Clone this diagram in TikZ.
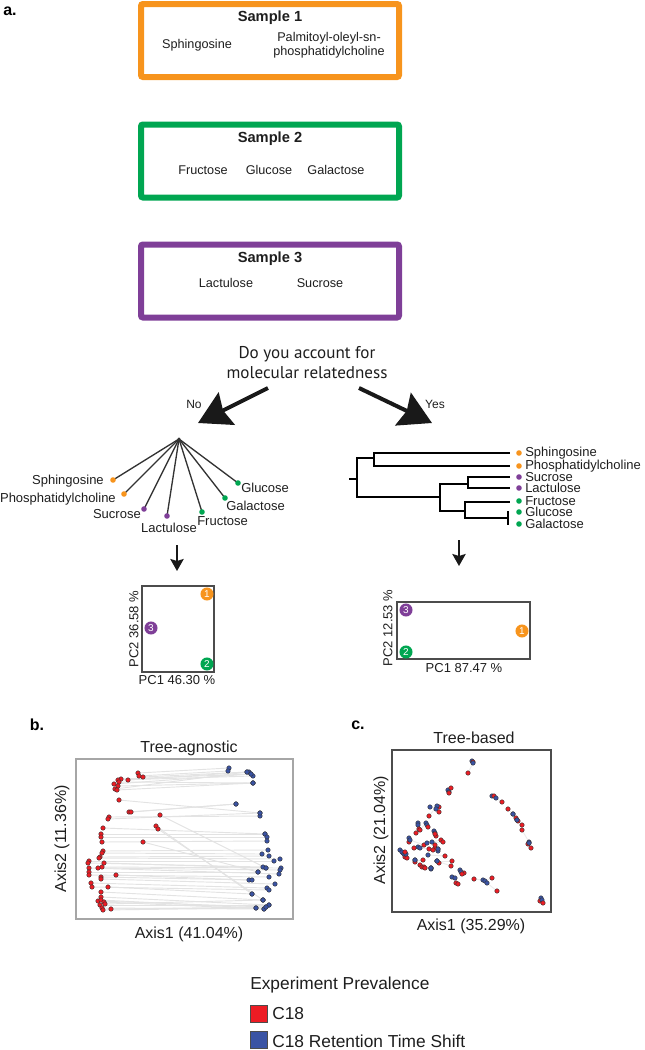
\documentclass[tikz,border=0pt]{standalone}
\usepackage{fontspec}
\setmainfont{Liberation Sans}
\newfontfamily\askfont{PT Sans}
\usetikzlibrary{arrows.meta,positioning,calc}

\definecolor{sorange}{HTML}{F7941D}
\definecolor{sgreen}{HTML}{00A651}
\definecolor{spurple}{HTML}{7F3F98}
\definecolor{pred}{HTML}{ED1C24}
\definecolor{pblue}{HTML}{3A53A4}
\definecolor{txtgray}{HTML}{1E1E1E}

% red x / red y / blue x / blue y
\newcommand{\aglist}{138/773/229/768, 139/776/228/771, 143/777/247/772, 128/780/249/772,
 121/779/251/774, 118/780/253/776, 119/782/253/783, 114/784/251/774, 118/786/253/783,
 115/789/247/772, 117/790/253/783, 119/800/260/813, 129/812/236/804, 131/812/236/804,
 109/817/260/816, 108/819/260/813, 160/815/266/868, 103/828/265/834, 156/826/252/894,
 158/829/263/900, 101/834/265/834, 101/837/267/837, 102/842/267/841, 143/842/258/872,
 103/851/268/850, 102/853/262/854, 100/857/269/856, 99/858/280/859, 89/861/274/861,
 88/863/263/867, 104/863/266/868, 102/867/281/868, 98/868/280/870, 89/868/279/874,
 89/872/258/872, 89/875/269/877, 116/875/249/880, 101/877/252/880, 101/879/275/884,
 91/883/267/888, 92/887/269/890, 108/887/252/894, 101/892/263/900, 101/897/269/905,
 98/901/266/907, 101/900/256/908, 104/902/264/909, 105/904/263/900, 100/905/269/905,
 102/908/264/909, 103/910/256/908, 111/909/266/907}
\newcommand{\tblist}{473/762/472/761, 468/773/473/763, 451/788/448/790, 449/793/449/792,
 494/796/492/796, 502/802/496/798, 439/807/430/807, 429/816/437/806, 439/812/436/809,
 508/809/513/814, 516/818/513/814, 518/821/517/820, 522/825/517/820, 522/830/529/842,
 528/844/529/843, 531/848/529/843, 416/833/418/823, 419/829/418/825, 420/830/426/823,
 428/827/427/825, 436/836/434/831, 435/834/435/833, 409/842/409/838, 424/845/410/840,
 441/840/427/843, 443/842/432/842, 435/848/438/849, 435/845/438/851, 414/848/418/847,
 429/849/420/848, 433/850/438/849, 445/856/428/855, 452/861/437/861, 403/853/400/850,
 405/857/402/852, 407/858/404/854, 405/852/406/854, 415/862/415/860, 423/860/415/860,
 439/863/437/861, 451/866/437/861, 420/865/431/868, 422/867/431/868, 424/867/431/869,
 425/868/431/868, 464/873/460/870, 462/874/461/872, 456/883/452/877, 458/884/455/878,
 474/879/483/880, 492/878/485/881, 497/891/487/883, 540/901/541/898, 543/903/542/900}

\begin{document}
\begin{tikzpicture}[x=0.75pt,y=-0.75pt,
 samplebox/.style={draw=#1,line width=4.5pt,rounded corners=1.5pt,minimum width=193.5pt,minimum height=54.75pt},
 boxhead/.style={font=\bfseries\fontsize{11}{13}\selectfont,text=txtgray,inner sep=0pt},
 boxtxt/.style={font=\fontsize{9.5}{10.5}\selectfont,text=txtgray,inner sep=0pt},
 treelbl/.style={font=\fontsize{9.75}{10.5}\selectfont,text=txtgray,inner sep=0pt},
 leafdot/.style={circle,fill=#1,inner sep=0pt,minimum size=4.2pt},
 bigarrow/.style={line width=3pt,draw=black!90,-{Stealth[length=24pt,width=27pt,inset=3pt]}},
 downarrow/.style={line width=1.5pt,draw=black!90,-{Stealth[length=9pt,width=10pt,inset=1.5pt]}},
 starline/.style={line width=1pt,draw=black!80},
 phylo/.style={line width=2.2pt,line join=miter,line cap=rect},
 pcabox/.style={draw=black!70,line width=1pt,inner sep=0pt},
 pcapt/.style={circle,fill=#1,inner sep=0pt,minimum size=9.8pt,text=white,font=\fontsize{7.5}{7.5}\selectfont},
 axlbl/.style={font=\fontsize{9.75}{10.5}\selectfont,text=txtgray,inner sep=0pt},
 panellbl/.style={font=\bfseries\fontsize{12}{14}\selectfont,inner sep=0pt},
 plotlbl/.style={font=\fontsize{12}{14}\selectfont,text=txtgray,inner sep=0pt},
 pairline/.style={draw=black!11,line width=0.7pt},
 rdot/.style={circle,fill=pred,draw=black!80,line width=0.3pt,inner sep=0pt,minimum size=3.4pt},
 bdot/.style={circle,fill=pblue,draw=black!80,line width=0.3pt,inner sep=0pt,minimum size=3.4pt}]
\useasboundingbox (0,0) rectangle (644,1050);

\node[panellbl] (pa) at (10,11) {a.};

% samples
\node[samplebox=sorange] (s1) at (270,40.5) {};
\node[boxhead] (s1head) at (270,18) {Sample 1};
\node[boxtxt] (sph) at (197,45) {Sphingosine};
\node[boxtxt,align=center] (pops) at (329,45) {Palmitoyl-oleyl-sn-\\phosphatidylcholine};

\node[samplebox=sgreen] (s2) at (270,161) {};
\node[boxhead] (s2head) at (270,139) {Sample 2};
\node[boxtxt] (fru) at (203,170) {Fructose};
\node[boxtxt] (glu) at (269,170) {Glucose};
\node[boxtxt] (gal) at (336,170) {Galactose};

\node[samplebox=spurple] (s3) at (270,281) {};
\node[boxhead] (s3head) at (270,259) {Sample 3};
\node[boxtxt] (lac) at (226,283) {Lactulose};
\node[boxtxt] (suc) at (320,283) {Sucrose};

% question
\node[font=\askfont\fontsize{12.8}{15}\selectfont,text=txtgray,align=center,inner sep=0pt] (ask) at (307,363)
 {Do you account for\\molecular relatedness};
\coordinate (notail) at (268,388);
\coordinate (notip) at (198,423);
\coordinate (yestail) at (359,388);
\coordinate (yestip) at (432,423);
\draw[bigarrow] (notail) -- (notip);
\draw[bigarrow] (yestail) -- (yestip);
\node[treelbl,font=\fontsize{9}{10}\selectfont] (no) at (194,404) {No};
\node[treelbl,font=\fontsize{9}{10}\selectfont] (yes) at (435,404) {Yes};

% star tree
\coordinate (hub) at (179,439);
\coordinate (lsph) at (113,480);
\coordinate (lpho) at (124,494);
\coordinate (lsuc) at (144,509);
\coordinate (llac) at (167,516);
\coordinate (lfru) at (202,512);
\coordinate (lgal) at (225,498);
\coordinate (lglu) at (238,483);
\draw[starline] (hub) -- (lsph);
\draw[starline] (hub) -- (lpho);
\draw[starline] (hub) -- (lsuc);
\draw[starline] (hub) -- (llac);
\draw[starline] (hub) -- (lfru);
\draw[starline] (hub) -- (lgal);
\draw[starline] (hub) -- (lglu);
\fill[black!80] (hub) circle (1.2pt);
\node[leafdot=sorange] at (lsph) {};
\node[leafdot=sorange] at (lpho) {};
\node[leafdot=spurple] at (lsuc) {};
\node[leafdot=spurple] at (llac) {};
\node[leafdot=sgreen] at (lfru) {};
\node[leafdot=sgreen] at (lgal) {};
\node[leafdot=sgreen] at (lglu) {};
\node[treelbl,anchor=east] (tsph) at (104,481) {Sphingosine};
\node[treelbl,anchor=east] (tpho) at (116,499) {Phosphatidylcholine};
\node[treelbl,anchor=east] (tsuc) at (141,514) {Sucrose};
\node[treelbl] (tlac) at (169,528) {Lactulose};
\node[treelbl,anchor=west] (tfru) at (197,521) {Fructose};
\node[treelbl,anchor=west] (tgal) at (226,506) {Galactose};
\node[treelbl,anchor=west] (tglu) at (241,488) {Glucose};

% phylogenetic tree
\draw[phylo] (350,479) -- (357,479);
\draw[phylo] (374,458) -| (357,497) -- (440,497);
\draw[phylo] (509,453) -| (374,466) -- (509,466);
\draw[phylo] (468,484) -| (440,511) -- (465,511);
\draw[phylo] (509,477) -| (468,488) -- (509,488);
\draw[phylo] (509,502) -| (465,518) -- (508,518);
\draw[phylo] (508,512) -- (508,524);
\foreach \ty/\tc/\tn in {453/sorange/Sphingosine, 466/sorange/Phosphatidylcholine,
 477/spurple/Sucrose, 488/spurple/Lactulose, 501/sgreen/Fructose,
 512/sgreen/Glucose, 524/sgreen/Galactose}{
 \node[leafdot=\tc] (d\tn) at (519,\ty) {};
 \node[treelbl,anchor=west] (n\tn) at (525,\ty) {\tn};
}

% down arrows
\coordinate (ldown) at (177,545);
\coordinate (ldownend) at (177,571);
\coordinate (rdown) at (459,540);
\coordinate (rdownend) at (459,566);
\draw[downarrow] (ldown) -- (ldownend);
\draw[downarrow] (rdown) -- (rdownend);

% PCA plots
\node[pcabox,minimum width=54pt,minimum height=64.5pt] (pcal) at (178,629) {};
\node[pcapt=sorange] (pl1) at (207,594) {1};
\node[pcapt=spurple] (pl3) at (151,628) {3};
\node[pcapt=sgreen] (pl2) at (207,664) {2};
\node[axlbl] (pcalx) at (177,680) {PC1 46.30 \%};
\node[axlbl,rotate=90] (pcaly) at (134,629) {PC2 36.58 \%};

\node[pcabox,minimum width=99.75pt,minimum height=42.75pt] (pcar) at (463.5,630.5) {};
\node[pcapt=spurple] (pr3) at (406,610) {3};
\node[pcapt=sgreen] (pr2) at (406,652) {2};
\node[pcapt=sorange] (pr1) at (522,631) {1};
\node[axlbl] (pcarx) at (464,668) {PC1 87.47 \%};
\node[axlbl,rotate=90] (pcary) at (388,628) {PC2 12.53 \%};

% panel b
\node[panellbl] (pb) at (37,725) {b.};
\node[plotlbl] (tag) at (189,748) {Tree-agnostic};
\node[draw=black!35,line width=0.8pt,inner sep=0pt,minimum width=162.75pt,minimum height=120pt] (bbox) at (184.5,839) {};
\foreach \rx/\ry/\bx/\by [count=\k] in \aglist {
 \coordinate (ra\k) at (\rx,\ry);
 \coordinate (ba\k) at (\bx,\by);
 \draw[pairline] (ra\k) -- (ba\k);
}
\foreach \rx/\ry/\bx/\by [count=\k] in \aglist {
 \node[rdot] at (ra\k) {};
 \node[bdot] at (ba\k) {};
}
\node[plotlbl] (bax) at (189,934) {Axis1 (41.04\%)};
\node[plotlbl,rotate=90] (bay) at (62,839) {Axis2 (11.36\%)};

% panel c
\node[panellbl] (pc) at (358,725) {c.};
\node[plotlbl] (tbased) at (474,738) {Tree-based};
\node[draw=black!70,line width=0.8pt,inner sep=0pt,minimum width=119.25pt,minimum height=121.5pt] (cbox) at (471.5,831) {};
\foreach \rx/\ry/\bx/\by [count=\k] in \tblist {
 \coordinate (rb\k) at (\rx,\ry);
 \coordinate (bb\k) at (\bx,\by);
 \draw[pairline,draw=black!8] (rb\k) -- (bb\k);
}
\foreach \rx/\ry/\bx/\by [count=\k] in \tblist {
 \node[bdot] at (bb\k) {};
 \node[rdot] at (rb\k) {};
}
\node[plotlbl] (cax) at (471,926) {Axis1 (35.29\%)};
\node[plotlbl,rotate=90] (cay) at (381,830) {Axis2 (21.04\%)};

% legend
\node[plotlbl,font=\fontsize{13}{15}\selectfont,anchor=west] (legt) at (250,985) {Experiment Prevalence};
\node[draw=black!70,fill=pred,line width=0.4pt,minimum size=12.5pt,inner sep=0pt] (legr) at (258.5,1014) {};
\node[plotlbl,font=\fontsize{13}{15}\selectfont,anchor=west] (legrt) at (272,1014) {C18};
\node[draw=black!70,fill=pblue,line width=0.4pt,minimum size=12.5pt,inner sep=0pt] (legb) at (258.5,1040) {};
\node[plotlbl,font=\fontsize{13}{15}\selectfont,anchor=west] (legbt) at (272,1041) {C18 Retention Time Shift};
\end{tikzpicture}
\end{document}
